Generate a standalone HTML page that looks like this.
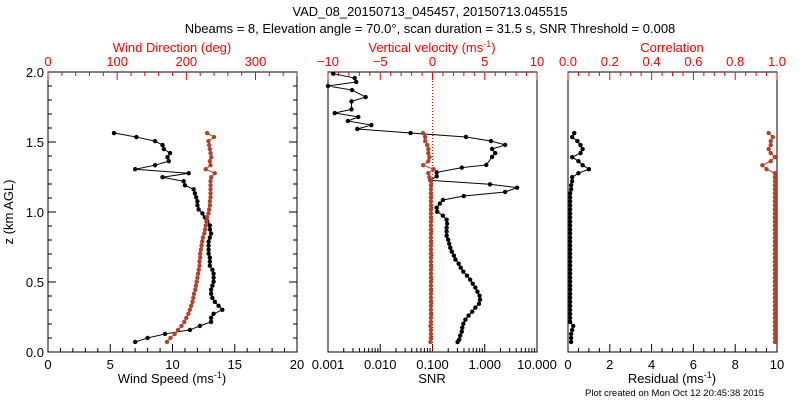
<!DOCTYPE html>
<html><head><meta charset="utf-8"><style>
body{margin:0;background:#fff}
svg{display:block;font-family:"Liberation Sans",sans-serif}
</style></head><body>
<svg id="c" width="800" height="400">
<text x="430" y="16" font-size="13" text-anchor="middle">VAD_08_20150713_045457, 20150713.045515</text>
<text x="430" y="33" font-size="13" text-anchor="middle">Nbeams = 8, Elevation angle = 70.0°, scan duration = 31.5 s, SNR Threshold = 0.008</text>
<text x="585" y="396" font-size="9.5">Plot created on Mon Oct 12 20:45:38 2015</text>
</svg>
<script>
// shared heights (km) for profiles
const z0 = 1.564, dz = 0.0287;
const windSpeed = [5.3,7.1,8.6,9.2,9.3,9.8,9.6,9.7,8.6,7.0,11.3,9.2,10.9,11.0,11.7,11.8,11.9,12.0,12.0,12.1,12.4,12.6,12.8,13.0,13.0,13.1,13.0,12.9,12.9,12.9,12.9,13.0,13.0,13.0,13.2,13.3,13.3,13.3,13.2,13.1,13.1,13.2,13.4,13.7,14.0,13.3,13.1,13.1,12.2,11.4,9.4,8.0,7.0];
const windDir = [230,240,232,233,234,235,236,234,235,228,241,236,235,235,235,235,235,234,234,233,232,230,229,228,227,226,224,223,222,221,220,220,219,219,218,217,216,215,214,213,211,210,209,207,205,203,200,197,193,188,183,177,172];
const snrZ = [1.988,1.957,1.929,1.900,1.871,1.821,1.790,1.733,1.707,1.679,1.650,1.621,1.593,1.564,1.536,1.507,1.479,1.450,1.421,1.393,1.336,1.317,1.283,1.255,1.226,1.198,1.174,1.143,1.114,1.086,1.060,1.031,1.002,0.974,0.945,0.917,0.888,0.860,0.831,0.802,0.774,0.745,0.717,0.688,0.660,0.631,0.602,0.574,0.545,0.517,0.488,0.460,0.431,0.402,0.374,0.345,0.317,0.288,0.260,0.231,0.202,0.174,0.145,0.117,0.088,0.071];
const snrLog = [-2.90,-2.49,-2.46,-3.10,-2.54,-2.28,-2.55,-2.55,-2.87,-2.42,-2.62,-2.17,-2.44,-1.42,-0.36,0.12,0.39,0.14,0.20,0.14,0.03,-0.44,-0.92,-0.92,-1.04,0.10,0.62,0.39,-0.40,-0.80,-0.86,-0.92,-0.91,-0.80,-0.73,-0.72,-0.73,-0.73,-0.73,-0.70,-0.68,-0.66,-0.63,-0.59,-0.56,-0.50,-0.46,-0.41,-0.34,-0.28,-0.23,-0.18,-0.14,-0.10,-0.09,-0.11,-0.18,-0.24,-0.31,-0.37,-0.41,-0.43,-0.44,-0.47,-0.49,-0.52];
const wVel = [-0.9,-0.7,-0.7,-0.5,-0.4,-0.4,-0.3,-0.4,-0.9,0.1,-0.4,-0.3,-0.15,-0.15,-0.15,-0.15,-0.15,-0.15,-0.15,-0.15,-0.15,-0.15,-0.15,-0.15,-0.15,-0.15,-0.15,-0.15,-0.15,-0.15,-0.15,-0.15,-0.15,-0.15,-0.15,-0.15,-0.15,-0.15,-0.15,-0.15,-0.15,-0.15,-0.15,-0.15,-0.15,-0.15,-0.15,-0.15,-0.2,-0.15,-0.15,-0.15,-0.2];
const residual = [0.3,0.2,0.45,0.6,0.7,0.6,0.2,0.5,0.7,1.0,0.5,0.2,0.2,0.15,0.15,0.1,0.1,0.1,0.1,0.1,0.1,0.1,0.1,0.1,0.1,0.1,0.1,0.1,0.1,0.1,0.1,0.1,0.1,0.1,0.1,0.1,0.1,0.1,0.1,0.1,0.1,0.1,0.1,0.1,0.1,0.1,0.1,0.1,0.25,0.2,0.15,0.15,0.15];
const correlation = [0.96,0.98,0.97,0.97,0.96,0.97,0.99,0.97,0.93,0.95,0.99,0.99,0.99,0.99,0.99,0.99,0.99,0.99,0.99,0.99,0.99,0.99,0.99,0.99,0.99,0.99,0.99,0.99,0.99,0.99,0.99,0.99,0.99,0.99,0.99,0.99,0.99,0.99,0.99,0.99,0.99,0.99,0.99,0.99,0.99,0.99,0.99,0.99,0.99,0.99,0.99,0.99,0.99];
const yTicks = ["0.0","0.5","1.0","1.5","2.0"];
const speedTicks = ["0","5","10","15","20"];
const dirTicks = ["0","100","200","300"];
const wTicks = ["-10","-5","0","5","10"];
const snrTicks = ["0.001","0.010","0.100","1.000","10.000"];
const resTicks = ["0","2","4","6","8","10"];
const corTicks = ["0.0","0.2","0.4","0.6","0.8","1.0"];

const svg=document.getElementById('c'), NS='http://www.w3.org/2000/svg';
const RED='#ff0000', DOT='#b5412a';
const T=72,B=352;
const yS=z=>B-(z/2)*(B-T);
function el(t,a,p){const e=document.createElementNS(NS,t);for(const k in a)e.setAttribute(k,a[k]);(p||svg).appendChild(e);return e;}
function txt(x,y,s,o){const e=el('text',Object.assign({x:x,y:y,'font-size':13,'text-anchor':'middle'},o||{}));e.textContent=s;return e;}
const panels=[[48,297],[328,537],[568,777]];
panels.forEach((p,i)=>{const r=el('rect',{x:p[0],y:T,width:p[1]-p[0],height:B-T,fill:'none',stroke:'#000'});

});
function tick(x1,y1,x2,y2,c){el('line',{x1:x1,y1:y1,x2:x2,y2:y2,stroke:c||'#000'});}
function linAxis(p,lo,hi,labels,major,minor,top,color,name){
 const sc=v=>p[0]+(v-lo)/(hi-lo)*(p[1]-p[0]);const y=top?T:B,d=top?1:-1;
 for(let v=lo;v<=hi+1e-9;v+=minor)tick(sc(v),y,sc(v),y+d*(Math.abs(Math.round((v-lo)/major)*major-(v-lo))<1e-6?8:4),color);
 labels.forEach(l=>{const v=+l;if(v<lo||v>hi)return;const t=txt(sc(v),top?T-6:B+17,l.replace('-','\u2212'),{fill:color||'#000'});
 
 });
 return sc;}
const P1=panels[0],P2=panels[1],P3=panels[2];
for(let k=0;k<=20;k++){const y=yS(k/10),L=k%5==0?8:4;tick(P1[0],y,P1[0]+L,y);tick(P1[1],y,P1[1]-L,y);}
yTicks.forEach(l=>{const t=txt(44,yS(+l)+5,l,{'text-anchor':'end'});

});
const yt=txt(0,0,'z (km AGL)',{transform:'translate(13,212) rotate(-90)'});


const sx=linAxis(P1,0,20,speedTicks,5,1,false,'#000','speed');
const dx=linAxis(P1,0,360,dirTicks,100,20,true,RED,'direction');
const wx=linAxis(P2,-10,10,wTicks,5,1,true,RED,'vvel');
const rx=linAxis(P3,0,10,resTicks,2,0.5,false,'#000','residual');
const cx=linAxis(P3,0,1,corTicks,0.2,0.05,true,RED,'correlation');
const lx=v=>P2[0]+(v+3)/4*(P2[1]-P2[0]);
for(let d=-3;d<1;d++)for(let m=1;m<10;m++){const x=lx(d+Math.log10(m));tick(x,B,x,B-(m==1?8:4));}
tick(lx(1),B,lx(1),B-8);
snrTicks.forEach(l=>{const t=txt(lx(Math.log10(+l)),B+17,l);

});
[[172,383,'Wind Speed (ms','-1',')','#000','x-axis-title-speed'],[432,383,'SNR','','','#000','x-axis-title-snr'],[672,383,'Residual (ms','-1',')','#000','x-axis-title-residual'],
 [172,52,'Wind Direction (deg)','','',RED,'top-axis-title-direction'],[432,52,'Vertical velocity (ms','-1',')',RED,'top-axis-title-vvel'],[672,52,'Correlation','','',RED,'top-axis-title-correlation']].forEach(a=>{
 const t=txt(a[0],a[1],'',{fill:a[5]});t.textContent=a[2];
 if(a[3]){const s=el('tspan',{dy:-5,'font-size':9},t);s.textContent=a[3];const s2=el('tspan',{dy:5},t);s2.textContent=a[4];}
 
 });
el('line',{x1:wx(0),y1:T,x2:wx(0),y2:B,stroke:RED,'stroke-dasharray':'1,2'});
function series(xs,zs,color,name,cl){
 const g=el('g',{});
 const pts=xs.map((x,i)=>[Math.max(cl,x),yS(zs[i])]);
 el('polyline',{points:pts.map(p=>p.join(',')).join(' '),fill:'none',stroke:color,'stroke-width':1},g);
 pts.forEach(p=>el('circle',{cx:p[0],cy:p[1],r:2.2,fill:color},g));}
const zs=windSpeed.map((_,i)=>z0-i*dz);
series(windSpeed.map(sx),zs,'#000','wind-speed-series',P1[0]);
series(windDir.map(dx),zs,DOT,'wind-direction-series',P1[0]);
series(snrLog.map(lx),snrZ,'#000','snr-series',P2[0]);
series(wVel.map(wx),zs,DOT,'vertical-velocity-series',P2[0]);
series(residual.map(rx),zs,'#000','residual-series',P3[0]);
series(correlation.map(cx),zs,DOT,'correlation-series',P3[0]);
</script>
</body></html>
